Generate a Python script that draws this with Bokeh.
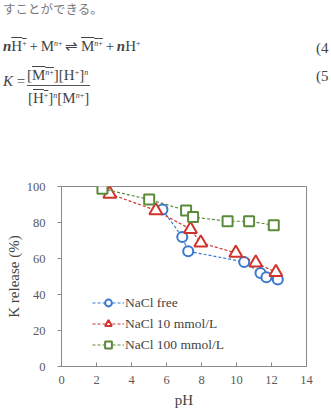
from bokeh.plotting import figure
from bokeh.layouts import column
from bokeh.models import Div, Legend, LegendItem, FixedTicker, Range1d
from bokeh.embed import file_html
from bokeh.resources import INLINE

# Data
ph_free = [5.77, 6.90, 7.24, 10.44, 11.37, 11.71, 12.36]
k_free = [87.2, 72.0, 64.0, 58.1, 51.9, 49.6, 48.3]
ph_10 = [2.76, 5.39, 7.37, 7.96, 9.96, 11.10, 12.25]
k_10 = [95.9, 86.7, 76.3, 68.7, 63.1, 57.6, 52.4]
ph_100 = [2.34, 5.01, 7.12, 7.52, 9.49, 10.72, 12.13]
k_100 = [98.7, 92.8, 86.7, 83.0, 80.7, 80.7, 78.5]
x_ticks = [0, 2, 4, 6, 8, 10, 12, 14]
y_ticks = [0, 20, 40, 60, 80, 100]
series_names = ["NaCl free", "NaCl 10 mmol/L", "NaCl 100 mmol/L"]

BLUE = "#3a78d0"
RED = "#d0342c"
GREEN = "#5a8a3a"
TXT = "#444444"

SUP = "font-size:8px;line-height:0;vertical-align:5px;"
html = f"""
<div style="position:relative;width:331px;height:176px;font-family:'Liberation Serif',serif;color:#444;line-height:18px;">
<div style="position:absolute;left:3px;top:0px;font-family:'Noto Sans CJK JP';font-size:12.5px;line-height:18px;color:#777;white-space:nowrap;">すことができる。</div>
<div style="position:absolute;left:3px;top:37px;font-size:15px;white-space:nowrap;word-spacing:-1px;"><i><b>n</b></i><span style="text-decoration:overline;">H<span style="{SUP}">+</span></span> + M<span style="{SUP}"><i>n</i>+</span> &#8652; <span style="text-decoration:overline;">M<span style="{SUP}"><i>n</i>+</span></span> + <i><b>n</b></i>H<span style="{SUP}">+</span></div>
<div style="position:absolute;left:316px;top:39px;font-size:15px;">(4</div>
<div style="position:absolute;left:3px;top:72px;font-size:15px;white-space:nowrap;"><i>K</i> =</div>
<div style="position:absolute;left:27px;top:66px;font-size:15px;white-space:nowrap;">[<span style="text-decoration:overline;">M<span style="{SUP}"><i>n</i>+</span></span>][H<span style="{SUP}">+</span>]<span style="{SUP}"><i>n</i></span></div>
<div style="position:absolute;left:27px;top:85px;width:63px;height:0;border-top:1px solid #555;"></div>
<div style="position:absolute;left:28px;top:89px;font-size:15px;white-space:nowrap;">[<span style="text-decoration:overline;">H<span style="{SUP}">+</span></span>]<span style="{SUP}"><i>n</i></span>[M<span style="{SUP}"><i>n</i>+</span>]</div>
<div style="position:absolute;left:316px;top:67px;font-size:15px;">(5</div>
</div>
"""
div = Div(text=html, width=331, height=176, margin=0)

p = figure(width=331, height=236, output_backend="svg", toolbar_location=None,
           x_range=Range1d(0, 14), y_range=Range1d(0, 100),
           min_border_left=61, min_border_right=25, min_border_top=10, min_border_bottom=46)
p.grid.visible = False
p.outline_line_color = "#888888"
p.outline_line_width = 1

for ax in (p.xaxis[0], p.yaxis[0]):
    ax.axis_line_color = "#888888"
    ax.major_tick_line_color = "#888888"
    ax.minor_tick_line_color = None
    ax.major_label_text_font = "Liberation Serif"
    ax.major_label_text_font_size = "12.5px"
    ax.major_label_text_color = "#595959"
    ax.axis_label_text_font = "Liberation Serif"
    ax.axis_label_text_font_size = "15px"
    ax.axis_label_text_font_style = "normal"
    ax.axis_label_text_color = TXT

p.xaxis.ticker = FixedTicker(ticks=x_ticks)
p.yaxis.ticker = FixedTicker(ticks=y_ticks)
p.xaxis.major_tick_in = 4
p.xaxis.major_tick_out = 0
p.yaxis.major_tick_in = 0
p.yaxis.major_tick_out = 4
p.xaxis.major_label_standoff = 9
p.yaxis.major_label_standoff = 12
p.xaxis.axis_label = "pH"
p.yaxis.axis_label = "K release (%)"
p.xaxis.axis_label_standoff = 5
p.yaxis.axis_label_standoff = 2

items = []
specs = [(ph_free, k_free, BLUE, "circle", 10),
         (ph_10, k_10, RED, "triangle", 13),
         (ph_100, k_100, GREEN, "square", 10)]
for (xs, ys, c, m, s), name in zip(specs, series_names):
    l = p.line(xs, ys, line_color=c, line_width=1.2, line_dash="3 2")
    sc = p.scatter(xs, ys, marker=m, size=s, line_color=c, line_width=2, fill_color="white")
    items.append(LegendItem(label=name, renderers=[l, sc]))

legend = Legend(items=items, location=(31, 13), padding=0, margin=0,
                background_fill_alpha=0, border_line_color=None,
                glyph_width=32, glyph_height=17, label_height=17, spacing=4,
                label_standoff=1, label_text_font="Liberation Serif",
                label_text_font_size="13.5px", label_text_color=TXT)
p.add_layout(legend)

layout = column(div, p, spacing=0)
open("out.html", "w").write(file_html(layout, INLINE))
